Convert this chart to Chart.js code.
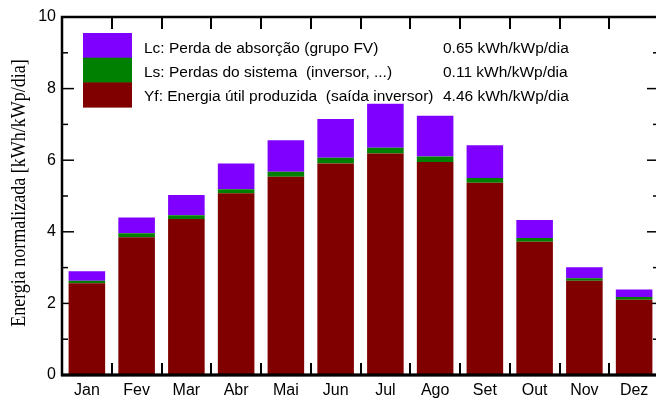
<!DOCTYPE html>
<html>
<head>
<meta charset="utf-8">
<script src="https://cdn.jsdelivr.net/npm/chart.js@4/dist/chart.umd.min.js"></script>
<style>
  html, body { margin: 0; padding: 0; background: #fff; overflow: hidden; }
  #wrap { width: 656px; height: 401px; overflow: hidden; }
  canvas { display: block; }
</style>
</head>
<body>
<div id="wrap"><canvas id="chart" width="670" height="401"></canvas></div>
<script>
// Monthly normalized energy (kWh/kWp/dia), stacked: Yf at the bottom, then Ls, then Lc
const months = ['Jan', 'Fev', 'Mar', 'Abr', 'Mai', 'Jun', 'Jul', 'Ago', 'Set', 'Out', 'Nov', 'Dez'];
const yfValues = [2.56, 3.85, 4.36, 5.08, 5.54, 5.91, 6.19, 5.95, 5.37, 3.72, 2.63, 2.10];
const lsValues = [0.07, 0.11, 0.10, 0.11, 0.14, 0.16, 0.16, 0.15, 0.13, 0.11, 0.07, 0.08];
const lcValues = [0.27, 0.44, 0.57, 0.72, 0.88, 1.08, 1.23, 1.14, 0.92, 0.50, 0.31, 0.21];
const yTicks = [0, 2, 4, 6, 8, 10];

// Legend rows, top to bottom
const legendLabels = [
    'Lc: Perda de absorção (grupo FV)',
    'Ls: Perdas do sistema  (inversor, ...)',
    'Yf: Energia útil produzida  (saída inversor)'
];
const legendValues = ['0.65 kWh/kWp/dia', '0.11 kWh/kWp/dia', '4.46 kWh/kWp/dia'];
const yTitle = 'Energia normalizada [kWh/kWp/dia]';

const COLOR_LC = '#8000ff';
const COLOR_LS = '#008000';
const COLOR_YF = '#800000';
const legendColors = [COLOR_LC, COLOR_LS, COLOR_YF];

const SANS = '"Liberation Sans", Arial, sans-serif';
const SERIF = '"Liberation Serif", "Times New Roman", serif';

function line(ctx, x1, y1, x2, y2) {
    ctx.beginPath();
    ctx.moveTo(x1, y1);
    ctx.lineTo(x2, y2);
    ctx.stroke();
}

// Inward ticks on all four sides, box frame, legend and rotated y title
const framePlugin = {
    id: 'frame',
    beforeDatasetsDraw(chart) {
        const { ctx, chartArea: a, scales: { y } } = chart;
        ctx.save();
        ctx.strokeStyle = '#000';
        ctx.lineWidth = 1.5;
        yTicks.forEach((v, i) => {
            const py = y.getPixelForValue(v);
            line(ctx, a.left, py, a.left + 12, py);
            line(ctx, a.right, py, a.right - 12, py);
            if (i < yTicks.length - 1) {
                const pm = y.getPixelForValue((v + yTicks[i + 1]) / 2);
                line(ctx, a.left, pm, a.left + 6, pm);
                line(ctx, a.right, pm, a.right - 6, pm);
            }
        });
        ctx.restore();
    },
    afterDatasetsDraw(chart) {
        const { ctx, chartArea: a, scales: { x } } = chart;
        ctx.save();
        ctx.strokeStyle = '#000';

        // category separators on top and bottom
        ctx.lineWidth = 2;
        for (let i = 0; i < months.length - 1; i++) {
            const px = Math.round((x.getPixelForValue(i) + x.getPixelForValue(i + 1)) / 2);
            line(ctx, px, a.bottom, px, a.bottom - 12);
            line(ctx, px, a.top, px, a.top + 12);
        }

        // frame
        ctx.lineWidth = 2.5;
        ctx.strokeRect(a.left, a.top, a.right - a.left, a.bottom - a.top);
        ctx.lineWidth = 3;
        line(ctx, a.left - 1, a.bottom, a.right + 1, a.bottom);

        // legend swatch (three stacked bands)
        const sx = 83, sy = 33, sw = 49, sh = 24.7;
        legendColors.forEach((c, i) => {
            ctx.fillStyle = c;
            ctx.fillRect(sx, sy + i * sh, sw, sh + 0.5);
        });

        ctx.fillStyle = '#000';
        ctx.font = '15.5px ' + SANS;
        ctx.textBaseline = 'middle';
        ctx.textAlign = 'left';
        legendLabels.forEach((t, i) => {
            const ty = 48.5 + i * 24.3;
            ctx.fillText(t, 144, ty);
            ctx.fillText(legendValues[i], 443, ty);
        });

        // y axis title
        ctx.translate(25, 193);
        ctx.rotate(-Math.PI / 2);
        ctx.scale(1, 1.15);
        ctx.font = '18px ' + SERIF;
        ctx.textAlign = 'center';
        ctx.textBaseline = 'alphabetic';
        ctx.fillText(yTitle, 0, 0);
        ctx.restore();
    }
};

const makeSet = (label, data, color) => ({
    label,
    data,
    backgroundColor: color,
    borderWidth: 0,
    categoryPercentage: 1,
    barPercentage: 0.735
});

new Chart(document.getElementById('chart'), {
    type: 'bar',
    data: {
        labels: months,
        datasets: [
            makeSet('Yf', yfValues, COLOR_YF),
            makeSet('Ls', lsValues, COLOR_LS),
            makeSet('Lc', lcValues, COLOR_LC)
        ]
    },
    options: {
        responsive: false,
        animation: false,
        layout: { padding: { left: 0, right: 11, top: 17, bottom: 0 } },
        plugins: { legend: { display: false }, tooltip: { enabled: false } },
        scales: {
            x: {
                stacked: true,
                grid: { display: false, drawTicks: false },
                border: { display: false },
                ticks: { color: '#000', font: { family: SANS, size: 16 }, padding: 6, maxRotation: 0 },
                afterFit(scale) { scale.height = 26; }
            },
            y: {
                stacked: true,
                min: 0,
                max: 10,
                grid: { display: false, drawTicks: false },
                border: { display: false },
                ticks: {
                    color: '#000',
                    font: { family: SANS, size: 16 },
                    padding: 6,
                    stepSize: 2,
                    callback: v => yTicks.includes(v) ? String(v) : ''
                },
                afterFit(scale) { scale.width = 62; }
            }
        }
    },
    plugins: [framePlugin]
});
</script>
</body>
</html>
